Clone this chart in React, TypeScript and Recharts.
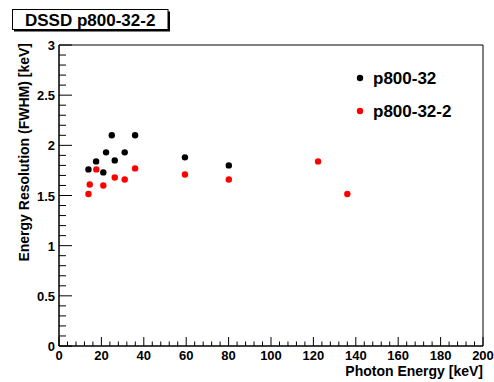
import React from 'react';
import { ScatterChart, Scatter, XAxis, YAxis, ReferenceArea, Legend } from 'recharts';

const titleText = 'DSSD p800-32-2';
const xTitle = 'Photon Energy [keV]';
const yTitle = 'Energy Resolution (FWHM) [keV]';

const seriesAName = 'p800-32';
const seriesAEnergy = [13.9, 17.5, 20.9, 22.2, 24.9, 26.3, 31.0, 35.9, 59.4, 80.1];
const seriesAFwhm = [1.76, 1.84, 1.73, 1.93, 2.1, 1.85, 1.93, 2.1, 1.88, 1.8];

const seriesBName = 'p800-32-2';
const seriesBEnergy = [13.9, 14.5, 17.6, 20.9, 26.3, 31.0, 35.9, 59.4, 80.1, 122.2, 136.0];
const seriesBFwhm = [1.515, 1.61, 1.76, 1.6, 1.68, 1.66, 1.77, 1.71, 1.66, 1.84, 1.515];

const xMajorTicks = [0, 20, 40, 60, 80, 100, 120, 140, 160, 180, 200];
const yMajorTicks = [0, 0.5, 1, 1.5, 2, 2.5, 3];
const xAllTicks = Array.from({ length: 51 }, (_, i) => i * 4);
const yAllTicks = Array.from({ length: 31 }, (_, i) => i / 10);

const dataA = seriesAEnergy.map((e, i) => ({ x: e, y: seriesAFwhm[i] }));
const dataB = seriesBEnergy.map((e, i) => ({ x: e, y: seriesBFwhm[i] }));

const FONT = '"Liberation Sans", Arial, Helvetica, sans-serif';

const isMajor = (v: number, list: number[]) => list.some((m) => Math.abs(m - v) < 1e-9);

const XTick = (props: any) => {
  const { x, y, payload } = props;
  const v = payload.value;
  const major = isMajor(v, xMajorTicks);
  return (
    <g>
      <line x1={x} x2={x} y1={y} y2={y - (major ? 9 : 4.5)} stroke="#000" strokeWidth={1} />
      {major && (
        <text x={x} y={y + 14} textAnchor="middle" fontFamily={FONT} fontWeight="bold" fontSize={13} fill="#000">
          {v}
        </text>
      )}
    </g>
  );
};

const YTick = (props: any) => {
  const { x, y, payload } = props;
  const v = payload.value;
  const major = isMajor(v, yMajorTicks);
  return (
    <g>
      <line x1={x} x2={x + (major ? 13 : 7)} y1={y} y2={y} stroke="#000" strokeWidth={1} />
      {major && (
        <text x={x - 4} y={y + 5} textAnchor="end" fontFamily={FONT} fontWeight="bold" fontSize={13} fill="#000">
          {String(v)}
        </text>
      )}
    </g>
  );
};

const dotShape = (color: string) => (p: any) => <circle cx={p.cx} cy={p.cy} r={3.2} fill={color} />;

const LegendContent = (props: any) => {
  const payload = props.payload || [];
  return (
    <svg width={130} height={62} style={{ display: 'block' }}>
      {payload.map((entry: any, i: number) => (
        <g key={i}>
          <circle cx={8} cy={12 + i * 33} r={3.2} fill={entry.color} />
          <text x={21} y={18 + i * 33} fontFamily={FONT} fontWeight="bold" fontSize={17} fill="#000">
            {entry.value}
          </text>
        </g>
      ))}
    </svg>
  );
};

export default function App() {
  return (
    <div style={{ position: 'absolute', left: 0, top: 0, width: 494, height: 382, background: '#fff' }}>
      <ScatterChart width={494} height={382} margin={{ top: 45, right: 11, bottom: 0, left: 0 }}>
        <XAxis
          type="number"
          dataKey="x"
          domain={[0, 200]}
          ticks={xAllTicks}
          interval={0}
          tickSize={0}
          tickMargin={0}
          tickLine={false}
          tick={<XTick />}
          axisLine={{ stroke: '#000' }}
          height={36}
          allowDataOverflow
        />
        <YAxis
          type="number"
          dataKey="y"
          domain={[0, 3]}
          ticks={yAllTicks}
          interval={0}
          tickSize={0}
          tickMargin={0}
          tickLine={false}
          tick={<YTick />}
          axisLine={{ stroke: '#000' }}
          width={59}
          allowDataOverflow
        />
        <ReferenceArea x1={0} x2={200} y1={0} y2={3} fill="none" stroke="#000" strokeWidth={1} />
        <Legend
          layout="vertical"
          align="center"
          verticalAlign="middle"
          content={<LegendContent />}
          wrapperStyle={{ position: 'absolute', left: 352, top: 66, width: 130, height: 62 }}
        />
        <Scatter name={seriesAName} data={dataA} fill="#000" shape={dotShape('#000')} isAnimationActive={false} />
        <Scatter name={seriesBName} data={dataB} fill="#ff0000" shape={dotShape('#ff0000')} isAnimationActive={false} />
      </ScatterChart>
      <svg width={494} height={382} style={{ position: 'absolute', left: 0, top: 0, pointerEvents: 'none' }}>
        <rect x={14} y={11.5} width={156} height={20} fill="#000" />
        <rect x={12.5} y={9.5} width={155.5} height={20} fill="#fff" stroke="#000" strokeWidth={1} />
        <text x={25} y={26} fontFamily={FONT} fontWeight="bold" fontSize={17} fill="#000">
          {titleText}
        </text>
        <text x={483} y={376} textAnchor="end" fontFamily={FONT} fontWeight="bold" fontSize={14} fill="#000">
          {xTitle}
        </text>
        <text
          x={0}
          y={0}
          transform="translate(29,43) rotate(-90)"
          textAnchor="end"
          fontFamily={FONT}
          fontWeight="bold"
          fontSize={14}
          fill="#000"
        >
          {yTitle}
        </text>
      </svg>
    </div>
  );
}
